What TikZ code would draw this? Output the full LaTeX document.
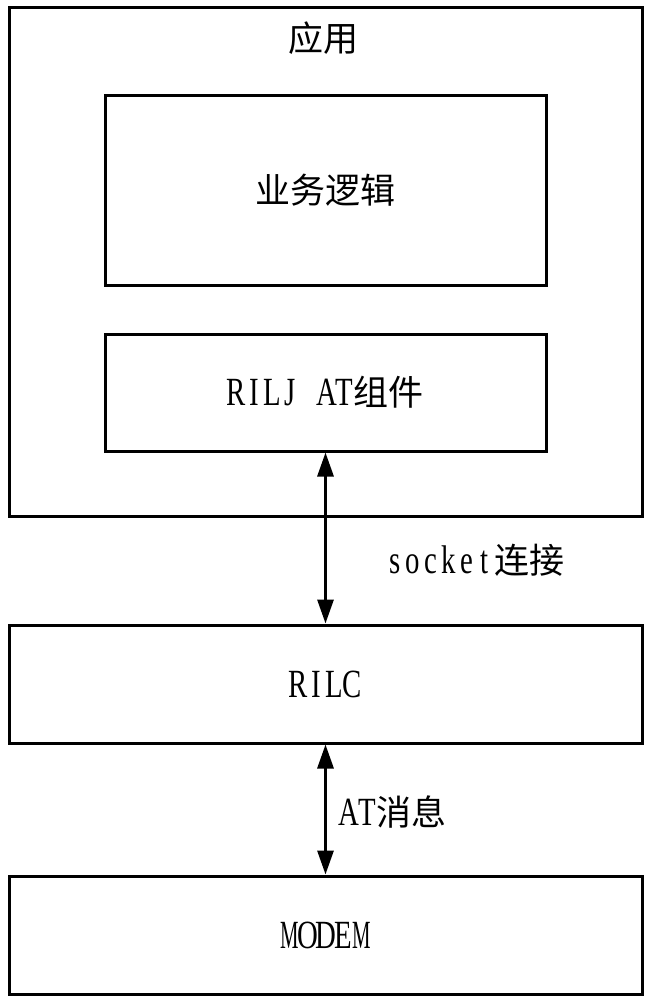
\documentclass[tikz,border=0pt]{standalone}
\usepackage{graphicx}
\usepackage{fontspec}
\setmainfont{Liberation Serif}
\newfontfamily\latser{Liberation Serif}[FakeStretch=0.72]
\newfontfamily\cjkfont{Noto Sans CJK SC}
\makeatletter
\newcommand\lt[1]{{\fontsize{40}{44}\selectfont\latser\@tfor\chr:=#1\do{\makebox[18pt]{\if\chr M\scalebox{0.72}[1]{M}\else\chr\fi}}}}
\makeatother
\newcommand\ck[1]{{\fontsize{35}{40}\selectfont\cjkfont #1}}
\usetikzlibrary{arrows.meta}
\begin{document}
\begin{tikzpicture}[x=1pt,y=-1pt,
  box/.style={draw=black,line width=3pt,inner sep=0pt},
  lbl/.style={inner sep=0pt},
  link/.style={line width=3pt,{Triangle[length=24pt,width=16pt]}-{Triangle[length=24pt,width=16pt]}}]
\useasboundingbox (0,0) rectangle (651,1000);
\fill[white] (0,0) rectangle (651,1000);
% boxes
\node[box,minimum width=633pt,minimum height=508pt] (app) at (325.5,262) {};
\node[box,minimum width=441pt,minimum height=189pt] (biz) at (325.5,190.5) {};
\node[box,minimum width=441pt,minimum height=117pt] (rilj) at (325.5,392.5) {};
\node[box,minimum width=633pt,minimum height=118pt] (rilc) at (325.5,684) {};
\node[box,minimum width=633pt,minimum height=118pt] (modem) at (325.5,935) {};
% texts
\node[lbl] (tapp) at (323,38) {\ck{应用}};
\node[lbl] at (biz.center) {\ck{业务逻辑}};
\node[lbl] at (rilj.center) {\lt{RILJ}\hspace{18pt}\lt{AT}\ck{组件}};
\node[lbl] at (rilc.center) {\lt{RILC}};
\node[lbl] at (modem.center) {\lt{MODEM}};
% connectors
\draw[link] (rilj.south) -- (rilc.north);
\draw[link] (rilc.south) -- (modem.north);
\node[lbl] at (475,560) {\lt{socket}\ck{连接}};
\node[lbl] at (393,812) {\lt{AT}\ck{消息}};
\end{tikzpicture}
\end{document}
